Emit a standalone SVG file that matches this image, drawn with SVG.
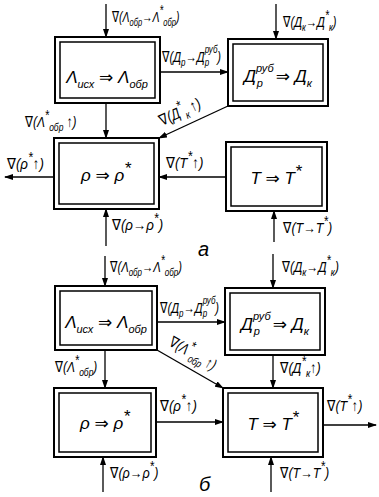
<svg xmlns="http://www.w3.org/2000/svg" width="379" height="497" viewBox="0 0 379 497">
<defs>
<style>
.o{fill:#fff;stroke:#000;stroke-width:2}
.i{fill:none;stroke:#000;stroke-width:1.5}
text{font-family:"Liberation Sans","DejaVu Sans",sans-serif;font-style:italic;fill:#000}
.t{font-size:17px}
.l{font-size:14px}
.s{font-size:10px}
.st{font-size:13px}
.bs{font-size:11px}
.c line{stroke:#000;stroke-width:1.3;marker-end:url(#ah)}
</style>
<marker id="ah" markerUnits="userSpaceOnUse" markerWidth="9" markerHeight="6" refX="8" refY="3" orient="auto">
<path d="M0,0 L9,3 L0,6 z" fill="#000"/>
</marker>
</defs>
<rect width="379" height="497" fill="#fff"/>

<g class="c" id="connectors">
<line x1="106" y1="4" x2="106" y2="37"/>
<line x1="106" y1="103" x2="106" y2="138"/>
<line x1="160" y1="72" x2="228" y2="72"/>
<line x1="276" y1="4" x2="276" y2="39"/>
<line x1="228" y1="106" x2="159" y2="138"/>
<line x1="226" y1="177" x2="159" y2="177"/>
<line x1="54" y1="177" x2="5" y2="177"/>
<line x1="106" y1="246" x2="106" y2="209"/>
<line x1="274" y1="242" x2="274" y2="211"/>

<line x1="105" y1="256" x2="105" y2="286"/>
<line x1="273" y1="254" x2="273" y2="288"/>
<line x1="157" y1="322" x2="225" y2="322"/>
<line x1="157" y1="350" x2="223" y2="388"/>
<line x1="105" y1="350" x2="105" y2="388"/>
<line x1="273" y1="355" x2="273" y2="388"/>
<line x1="156" y1="422" x2="223" y2="422"/>
<line x1="323" y1="425" x2="376" y2="425"/>
<line x1="103" y1="492" x2="103" y2="457"/>
<line x1="271" y1="492" x2="271" y2="457"/>
</g>

<g id="n1">
<rect class="o" x="55" y="37" width="105" height="66"/>
<rect class="i" x="60" y="42" width="95" height="56"/>
<text class="t" x="107" y="83" text-anchor="middle">Λ<tspan class="bs" dy="5">исх</tspan><tspan dy="-5"> ⇒ Λ</tspan><tspan class="bs" dy="5">обр</tspan></text>
</g>
<g id="n2">
<rect class="o" x="228" y="39" width="100" height="67"/>
<rect class="i" x="233" y="44" width="90" height="57"/>
<text class="t" x="278" y="82" text-anchor="middle">Д<tspan class="bs" dy="-10">руб</tspan><tspan class="bs" dx="-17" dy="15">р</tspan><tspan dy="-5" dx="13">⇒ Д</tspan><tspan class="bs" dy="5">к</tspan></text>
</g>
<g id="n3">
<rect class="o" x="54" y="138" width="105" height="71"/>
<rect class="i" x="59" y="143" width="95" height="61"/>
<text class="t" x="106" y="181" text-anchor="middle">ρ ⇒ ρ<tspan dy="-7">*</tspan></text>
</g>
<g id="n4">
<rect class="o" x="226" y="142" width="101" height="69"/>
<rect class="i" x="231" y="147" width="91" height="59"/>
<text class="t" x="276" y="184" text-anchor="middle">T ⇒ T<tspan dy="-7">*</tspan></text>
</g>

<g id="n5">
<rect class="o" x="55" y="286" width="102" height="64"/>
<rect class="i" x="60" y="291" width="92" height="54"/>
<text class="t" x="106" y="328" text-anchor="middle">Λ<tspan class="bs" dy="5">исх</tspan><tspan dy="-5"> ⇒ Λ</tspan><tspan class="bs" dy="5">обр</tspan></text>
</g>
<g id="n6">
<rect class="o" x="225" y="288" width="100" height="67"/>
<rect class="i" x="230" y="293" width="90" height="57"/>
<text class="t" x="275" y="330" text-anchor="middle">Д<tspan class="bs" dy="-10">руб</tspan><tspan class="bs" dx="-17" dy="15">р</tspan><tspan dy="-5" dx="13">⇒ Д</tspan><tspan class="bs" dy="5">к</tspan></text>
</g>
<g id="n7">
<rect class="o" x="54" y="388" width="102" height="69"/>
<rect class="i" x="59" y="393" width="92" height="59"/>
<text class="t" x="105" y="429" text-anchor="middle">ρ ⇒ ρ<tspan dy="-7">*</tspan></text>
</g>
<g id="n8">
<rect class="o" x="223" y="388" width="100" height="69"/>
<rect class="i" x="228" y="393" width="90" height="59"/>
<text class="t" x="273" y="430" text-anchor="middle">T ⇒ T<tspan dy="-7">*</tspan></text>
</g>

<g id="labels">
<text class="l" transform="translate(112,22) scale(0.75,1.1)">∇(Λ<tspan class="s" dy="4">обр</tspan><tspan dy="-4">→Λ</tspan><tspan class="st" dy="-6">*</tspan><tspan class="s" dy="10">обр</tspan><tspan dy="-4">)</tspan></text>
<text class="l" transform="translate(162,62) scale(0.8,1.1)">∇(Д<tspan class="s" dy="4">р</tspan><tspan dy="-4">→Д</tspan><tspan class="s" dy="-8">руб</tspan><tspan class="s" dx="-16" dy="12">р</tspan><tspan dx="10" dy="-4">)</tspan></text>
<text class="l" transform="translate(283,27) scale(0.8,1.1)">∇(Д<tspan class="s" dy="4">к</tspan><tspan dy="-4">→Д</tspan><tspan class="st" dy="-6">*</tspan><tspan class="s" dy="10">к</tspan><tspan dy="-4">)</tspan></text>
<text class="l" transform="translate(25,127) scale(0.85,1.1)">∇(Λ<tspan class="st" dy="-6">*</tspan><tspan class="s" dy="10">обр</tspan><tspan dy="-4"> ↑)</tspan></text>
<text class="l" transform="translate(162,126) rotate(-25) scale(0.9,1.1)">∇(Д<tspan class="st" dy="-6">*</tspan><tspan class="s" dy="10">к</tspan><tspan dy="-4"> ↑)</tspan></text>
<text class="l" transform="translate(166,168) scale(0.95,1.1)">∇(T<tspan class="st" dy="-6">*</tspan><tspan dy="6">↑)</tspan></text>
<text class="l" transform="translate(7,169) scale(0.95,1.1)">∇(ρ<tspan class="st" dy="-6">*</tspan><tspan dy="6">↑)</tspan></text>
<text class="l" transform="translate(112,230) scale(0.95,1.1)">∇(ρ→ρ<tspan class="st" dy="-6">*</tspan><tspan dy="6">)</tspan></text>
<text class="l" transform="translate(283,233) scale(0.9,1.1)">∇(T→T<tspan class="st" dy="-6">*</tspan><tspan dy="6">)</tspan></text>
<text x="198" y="256" style="font-size:20px">а</text>

<text class="l" transform="translate(110,272) scale(0.8,1.1)">∇(Λ<tspan class="s" dy="4">обр</tspan><tspan dy="-4">→Λ</tspan><tspan class="st" dy="-6">*</tspan><tspan class="s" dy="10">обр</tspan><tspan dy="-4">)</tspan></text>
<text class="l" transform="translate(282,272) scale(0.85,1.1)">∇(Д<tspan class="s" dy="4">к</tspan><tspan dy="-4">→Д</tspan><tspan class="st" dy="-6">*</tspan><tspan class="s" dy="10">к</tspan><tspan dy="-4">)</tspan></text>
<text class="l" transform="translate(160,313) scale(0.8,1.1)">∇(Д<tspan class="s" dy="4">р</tspan><tspan dy="-4">→Д</tspan><tspan class="s" dy="-8">руб</tspan><tspan class="s" dx="-16" dy="12">р</tspan><tspan dx="10" dy="-4">)</tspan></text>
<text class="l" transform="translate(168,345) rotate(30) scale(0.85,1.1)">∇(Λ<tspan class="st" dy="-6">*</tspan><tspan class="s" dy="10">обр</tspan><tspan dy="-4"> ↑)</tspan></text>
<text class="l" transform="translate(55,372) scale(0.85,1.1)">∇(Λ<tspan class="st" dy="-6">*</tspan><tspan class="s" dy="10">обр</tspan><tspan dy="-4">)</tspan></text>
<text class="l" transform="translate(280,373) scale(0.9,1.1)">∇(Д<tspan class="st" dy="-6">*</tspan><tspan class="s" dy="10">к</tspan><tspan dy="-4">↑)</tspan></text>
<text class="l" transform="translate(160,411) scale(0.95,1.1)">∇(ρ<tspan class="st" dy="-6">*</tspan><tspan dy="6">↑)</tspan></text>
<text class="l" transform="translate(327,411) scale(0.9,1.1)">∇(T<tspan class="st" dy="-6">*</tspan><tspan dy="6">↑)</tspan></text>
<text class="l" transform="translate(110,478) scale(0.9,1.1)">∇(ρ→ρ<tspan class="st" dy="-6">*</tspan><tspan dy="6">)</tspan></text>
<text class="l" transform="translate(280,478) scale(0.9,1.1)">∇(T→T<tspan class="st" dy="-6">*</tspan><tspan dy="6">)</tspan></text>
<text x="199" y="491" style="font-size:20px">б</text>
</g>
</svg>
